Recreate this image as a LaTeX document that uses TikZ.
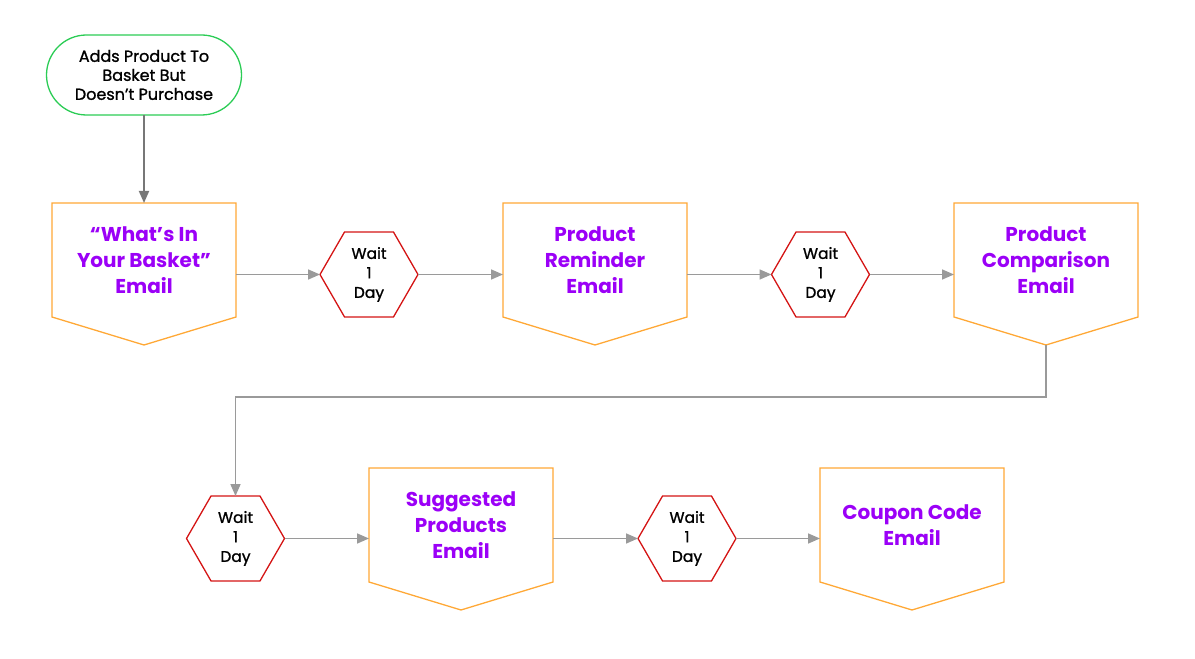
\documentclass[tikz,border=0pt]{standalone}
\usepackage{fontspec}
\setmainfont{Poppins}
\newfontfamily\blackfont[FakeBold=1.2]{Poppins}
\usetikzlibrary{arrows.meta,shapes.geometric,calc}
\definecolor{startgreen}{HTML}{2BCC55}
\definecolor{mailorange}{HTML}{FFA836}
\definecolor{waitred}{HTML}{D41414}
\definecolor{mailpurple}{HTML}{9B00F7}
\definecolor{linegray}{HTML}{9A9A9A}
\definecolor{darkgray}{HTML}{777777}
\tikzset{
  startbox/.style={draw=startgreen,line width=1.3pt,rounded corners=40pt,minimum width=195pt,minimum height=80pt,inner sep=0pt,outer sep=0pt,align=center,font=\blackfont\fontsize{16}{19}\selectfont},
  mailbox/.style={minimum width=184pt,minimum height=114pt,inner sep=0pt,outer sep=0pt,align=center,text=mailpurple,font=\fontsize{20}{26}\selectfont\bfseries},
  mailshape/.style={draw=mailorange,line width=1.3pt,line join=miter},
  waitbox/.style={regular polygon,regular polygon sides=6,draw=waitred,line width=1.3pt,minimum size=98pt,inner sep=0pt,outer sep=0pt,align=center,font=\blackfont\fontsize{15.5}{19.5}\selectfont},
  flow/.style={draw=linegray,line width=1.6pt,-{Triangle[length=12pt,width=10pt]}},
  flowdark/.style={draw=darkgray,line width=1.8pt,-{Triangle[length=12pt,width=10pt]}}
}
\newcommand{\mailpent}[1]{\draw[mailshape] (#1.north west) -- (#1.north east) -- (#1.south east) -- ($(#1.south)+(0,-28pt)$) -- (#1.south west) -- cycle;}
\begin{document}
\begin{tikzpicture}[x=1pt,y=1pt]
\useasboundingbox (0,0) rectangle (1195,659);
\node[startbox] (s) at (144,584) {Adds Product To\\Basket But\\Doesn’t Purchase};
\node[mailbox] (e1) at (144,399) {“What’s In\\Your Basket”\\Email};
\node[waitbox] (h1) at (369,384.5) {Wait\\1\\Day};
\node[mailbox] (e2) at (595,399) {Product\\Reminder\\Email};
\node[waitbox] (h2) at (820.5,384.5) {Wait\\1\\Day};
\node[mailbox] (e3) at (1046,399) {Product\\Comparison\\Email};
\node[waitbox] (h3) at (235.5,120.5) {Wait\\1\\Day};
\node[mailbox] (e4) at (461,134) {Suggested\\Products\\Email};
\node[waitbox] (h4) at (687,120.5) {Wait\\1\\Day};
\node[mailbox] (e5) at (912,134) {Coupon Code\\Email};
\mailpent{e1}\mailpent{e2}\mailpent{e3}\mailpent{e4}\mailpent{e5}
\coordinate (e3tip) at ($(e3.south)+(0,-28pt)$);
\draw[flowdark] (s.south) -- (e1.north);
\draw[flow] (h1.west -| e1.east) -- (h1.west);
\draw[flow] (h1.east) -- (h1.east -| e2.west);
\draw[flow] (h2.west -| e2.east) -- (h2.west);
\draw[flow] (h2.east) -- (h2.east -| e3.west);
\draw[flow] (e3tip) -- ++(0,-52) -| (h3.north);
\draw[flow] (h3.east) -- (h3.east -| e4.west);
\draw[flow] (h4.west -| e4.east) -- (h4.west);
\draw[flow] (h4.east) -- (h4.east -| e5.west);
\end{tikzpicture}
\end{document}
